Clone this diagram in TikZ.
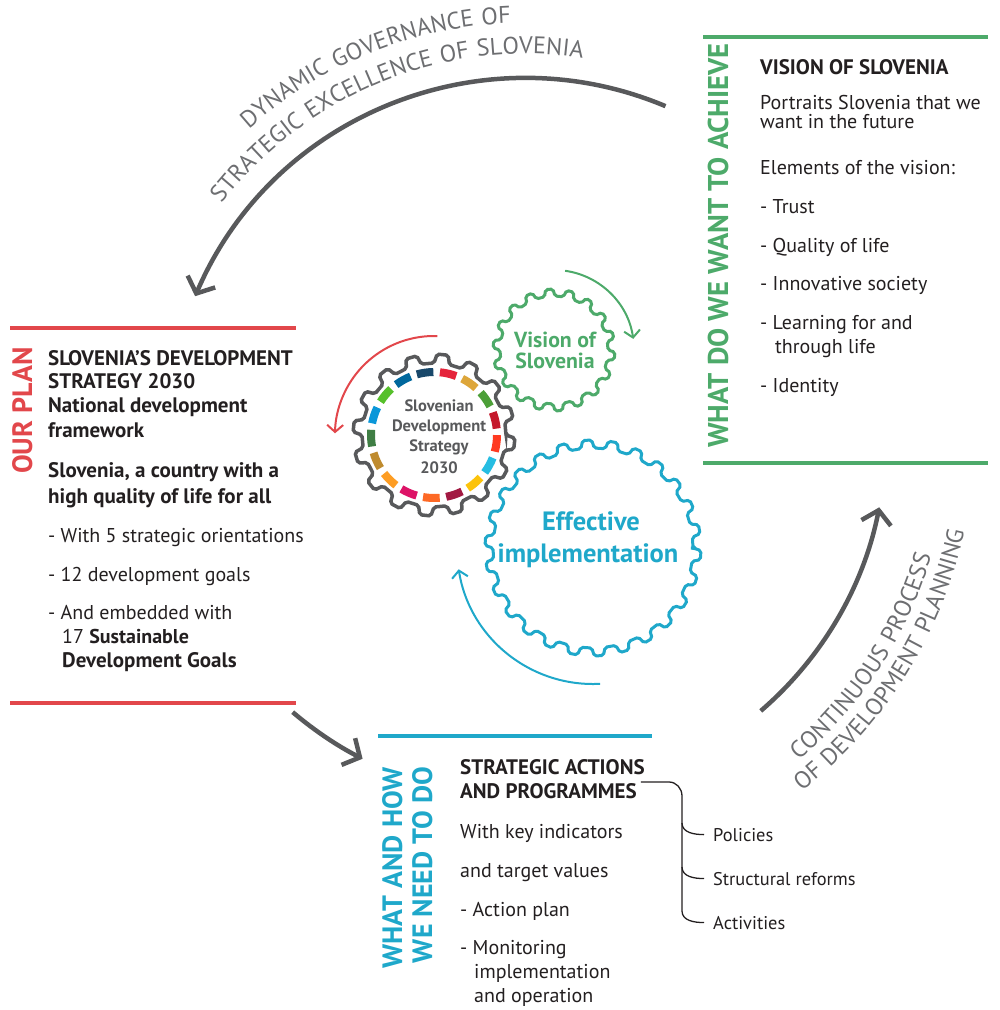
\documentclass[tikz,border=0pt]{standalone}
\usepackage{fontspec}
\setmainfont{PT Sans}
\newfontfamily\arcfont[LetterSpace=6]{PT Sans}
\usetikzlibrary{arrows.meta,decorations.text,calc}
\definecolor{ourred}{HTML}{E2474B}
\definecolor{ourgreen}{HTML}{4DAA6A}
\definecolor{ourcyan}{HTML}{1FA8CA}
\definecolor{gearGray}{HTML}{58595B}
\definecolor{arcGray}{HTML}{6D6E71}
\definecolor{txt}{HTML}{231F20}
\definecolor{sdga}{HTML}{E5243B}\definecolor{sdgb}{HTML}{DDA63A}\definecolor{sdgc}{HTML}{4C9F38}
\definecolor{sdgd}{HTML}{C5192D}\definecolor{sdge}{HTML}{FF3A21}\definecolor{sdgf}{HTML}{26BDE2}
\definecolor{sdgg}{HTML}{FCC30B}\definecolor{sdgh}{HTML}{A21942}\definecolor{sdgi}{HTML}{FD6925}
\definecolor{sdgj}{HTML}{DD1367}\definecolor{sdgk}{HTML}{FD9D24}\definecolor{sdgl}{HTML}{BF8B2E}
\definecolor{sdgm}{HTML}{3F7E44}\definecolor{sdgn}{HTML}{0A97D9}\definecolor{sdgo}{HTML}{56C02B}
\definecolor{sdgp}{HTML}{00689D}\definecolor{sdgq}{HTML}{19486A}
\newcommand\mygear[5]{%
  \pgfmathsetmacro\gp{360/#1}%
  \draw[#5] (#4:#2) \foreach \i in {1,...,#1}{ -- ({#4+(\i-1)*\gp+0.1*\gp}:#3) -- ({#4+(\i-1)*\gp+0.45*\gp}:#3) -- ({#4+(\i-1)*\gp+0.55*\gp}:#2) -- ({#4+\i*\gp}:#2)} -- cycle;}
\begin{document}
\begin{tikzpicture}[x=1pt,y=-1pt,
  body/.style={font=\fontsize{20}{24}\selectfont, text=txt, inner sep=0pt, anchor=base west},
  head/.style={font=\fontsize{21}{24}\selectfont\bfseries, text=txt, inner sep=0pt, anchor=base west},
  small/.style={font=\fontsize{18.4}{22}\selectfont, text=txt, inner sep=0pt, anchor=base west},
  vlabel/.style={rotate=90, inner sep=0pt, font=\fontsize{28}{30}\selectfont\bfseries},
  bigarrow/.style={draw=gearGray, line width=4.5pt, -{Straight Barb[length=13pt,width=30pt]}},
  smallarrow/.style={line width=2pt, -{Straight Barb[length=7pt,width=16pt]}},
  bracket/.style={draw=txt, line width=1.3pt},
  sepline/.style={line width=4pt},
  arctext/.style={decorate, decoration={text along path, text align=center}}
]
\useasboundingbox (0,0) rectangle (1000,1010);

% ---- big cycle arrows
\coordinate (O) at (526,438);
\coordinate (ta) at ($(O)+(-67.2:360)$);
\coordinate (ra) at ($(O)+(49.3:360)$);
\coordinate (ba) at ($(O)+(130.4:360)$);
\draw[bigarrow] (ta) arc[start angle=-67.2, end angle=-156.8, radius=360];
\draw[bigarrow] (ra) arc[start angle=49.3, end angle=11.1, radius=360];
\draw[bigarrow] (ba) arc[start angle=130.4, end angle=117, radius=360];

% ---- arc texts
\path[arctext, decoration={text={|\arcfont\fontsize{24}{24}\selectfont\color{arcGray}|DYNAMIC GOVERNANCE OF}}]
  ($(O)+(-172:415)$) arc[start angle=-172, end angle=-52, radius=415];
\path[arctext, decoration={text={|\arcfont\fontsize{24}{24}\selectfont\color{arcGray}|STRATEGIC EXCELLENCE OF SLOVENIA}}]
  ($(O)+(-172:384)$) arc[start angle=-172, end angle=-52, radius=384];
\path[arctext, decoration={text={|\arcfont\fontsize{24}{24}\selectfont\color{arcGray}|CONTINUOUS PROCESS}}]
  ($(O)+(78:422)$) arc[start angle=78, end angle=-12, radius=422];
\path[arctext, decoration={text={|\arcfont\fontsize{24}{24}\selectfont\color{arcGray}|OF DEVELOPMENT PLANNING}}]
  ($(O)+(77:448)$) arc[start angle=77, end angle=-13, radius=448];

% ---- gears
\coordinate (G1) at (434,435);
\coordinate (G2) at (554,350);
\coordinate (G3) at (593,548);
\begin{scope}[shift={(G3)}]
  \mygear{26}{100}{108}{0}{draw=ourcyan, line width=3pt, rounded corners=2pt, fill=white}
\end{scope}
\begin{scope}[shift={(G2)}]
  \mygear{18}{54}{61}{0}{draw=ourgreen, line width=3pt, rounded corners=2pt, fill=white}
\end{scope}
\begin{scope}[shift={(G1)}]
  \mygear{16}{72}{81}{0}{draw=gearGray, line width=3.5pt, rounded corners=2pt, fill=white}
  \foreach \c [count=\k from 0] in {sdga,sdgb,sdgc,sdgd,sdge,sdgf,sdgg,sdgh,sdgi,sdgj,sdgk,sdgl,sdgm,sdgn,sdgo,sdgp,sdgq}{
    \pgfmathsetmacro\aa{-77+\k*21.176-7.6}
    \pgfmathsetmacro\ab{-77+\k*21.176+7.6}
    \draw[\c, line width=8pt] (\aa:63) arc[start angle=\aa, end angle=\ab, radius=63];
  }
\end{scope}

% gear arrows
\draw[smallarrow, ourred] ($(G1)+(-88:99)$) arc[start angle=-88, end angle=-179, radius=99];
\draw[smallarrow, ourgreen] ($(G2)+(-82:80)$) arc[start angle=-82, end angle=-8, radius=80];
\draw[smallarrow, ourcyan] ($(G3)+(87:136)$) arc[start angle=87, end angle=171, radius=136];

% gear texts
\begin{scope}[every node/.style={inner sep=0pt, anchor=base}]
\node[font=\fontsize{16.5}{20}\selectfont\bfseries, text=gearGray] (g1a) at (439,411) {Slovenian};
\node[font=\fontsize{16.5}{20}\selectfont\bfseries, text=gearGray] (g1b) at (439,431) {Development};
\node[font=\fontsize{16.5}{20}\selectfont\bfseries, text=gearGray] (g1c) at (439,451) {Strategy};
\node[font=\fontsize{16.5}{20}\selectfont\bfseries, text=gearGray] (g1d) at (439,473) {2030};
\node[font=\fontsize{21.8}{22}\selectfont\bfseries, text=ourgreen] (g2a) at (555,347) {Vision of};
\node[font=\fontsize{21.8}{22}\selectfont\bfseries, text=ourgreen] (g2b) at (555,368) {Slovenia};
\node[font=\fontsize{26.5}{28}\selectfont\bfseries, text=ourcyan] (g3a) at (591,530) {Effective};
\node[font=\fontsize{26.5}{28}\selectfont\bfseries, text=ourcyan] (g3b) at (588,562) {implementation};
\end{scope}

% ---- left box
\draw[sepline, ourred] (10,328) -- (296,328);
\draw[sepline, ourred] (10,703) -- (296,703);
\node[vlabel, text=ourred, anchor=base west] (ourplan) at (32,474) {OUR PLAN};
\node[head] (lp1) at (48,365) {SLOVENIA'S DEVELOPMENT};
\node[head] (lp2) at (48,388) {STRATEGY 2030};
\node[head] (lp3) at (48,412) {National development};
\node[head] (lp4) at (48,437) {framework};
\node[head] (lp5) at (48,477) {Slovenia, a country with a};
\node[head] (lp6) at (48,503) {high quality of life for all};
\node[body] (lp7) at (48,542) {- With 5 strategic orientations};
\node[body] (lp8) at (48,581) {- 12 development goals};
\node[body] (lp9) at (48,619) {- And embedded with};
\node[body] (lp10) at (62,643) {17 \textbf{Sustainable}};
\node[head] (lp11) at (62,667) {Development Goals};

% ---- vision box
\draw[sepline, ourgreen] (703,37) -- (988,37);
\draw[sepline, ourgreen] (703,463) -- (988,463);
\node[vlabel, text=ourgreen, anchor=base west, font=\fontsize{28.6}{30}\selectfont\bfseries] (vwant) at (728,448) {WHAT DO WE WANT TO ACHIEVE};
\node[head] (v1) at (760,74) {VISION OF SLOVENIA};
\node[body] (v2) at (760,109) {Portraits Slovenia that we};
\node[body] (v3) at (760,128) {want in the future};
\node[body] (v4) at (760,174) {Elements of the vision:};
\node[body] (v5) at (760,213) {- Trust};
\node[body] (v6) at (760,252) {- Quality of life};
\node[body] (v7) at (760,290) {- Innovative society};
\node[body] (v8) at (760,329) {- Learning for and};
\node[body] (v9) at (775,353) {through life};
\node[body] (v10) at (760,392) {- Identity};

% ---- bottom box
\draw[sepline, ourcyan] (378,736) -- (652,736);
\node[vlabel, text=ourcyan, anchor=base] (wh1) at (402,868) {WHAT AND HOW};
\node[vlabel, text=ourcyan, anchor=base] (wh2) at (432,865) {WE NEED TO DO};
\node[head] (s1) at (460,774) {STRATEGIC ACTIONS};
\node[head] (s2) at (460,798) {AND PROGRAMMES};
\node[body] (s3) at (460,838) {With key indicators};
\node[body] (s4) at (460,877) {and target values};
\node[body] (s5) at (460,916) {- Action plan};
\node[body] (s6) at (460,954) {- Monitoring};
\node[body] (s7) at (474,978) {implementation};
\node[body] (s8) at (474,1002) {and operation};
\node[small] (pol) at (713,841) {Policies};
\node[small] (str) at (713,885) {Structural reforms};
\node[small] (act) at (713,929) {Activities};

\coordinate (bkx) at ([xshift=4pt]s2.east);
\coordinate (bky) at (0,782);
\coordinate (bk) at (bkx |- bky);
\draw[bracket] (bk) -- (669,782) to[out=0,in=90] (682,796) -- (682,911) to[out=-90,in=180] ([xshift=-9pt]act.west);
\draw[bracket] (682,823) to[out=-90,in=180] ([xshift=-9pt]pol.west);
\draw[bracket] (682,867) to[out=-90,in=180] ([xshift=-9pt]str.west);
\end{tikzpicture}
\end{document}
